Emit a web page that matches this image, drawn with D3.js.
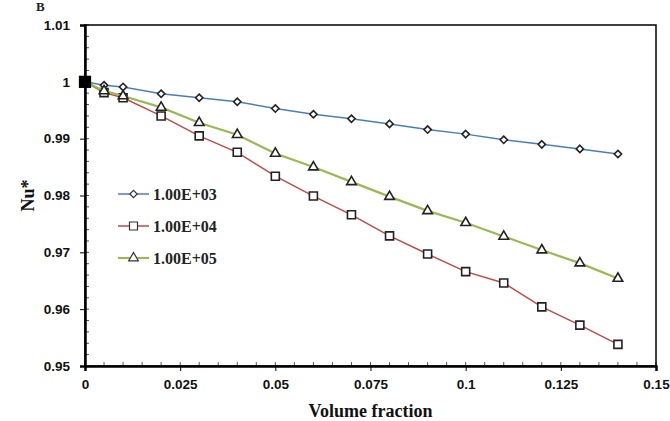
<!DOCTYPE html>
<html>
<head>
<meta charset="utf-8">
<script src="https://cdn.jsdelivr.net/npm/d3@7"></script>
<style>
  body { margin: 0; background: #fff; }
  svg { display: block; }
</style>
</head>
<body>
<div id="chart"></div>
<script>
// volume fraction values
const fractions = [0, 0.005, 0.01, 0.02, 0.03, 0.04, 0.05, 0.06, 0.07, 0.08, 0.09, 0.1, 0.11, 0.12, 0.13, 0.14];

// Nu* per Rayleigh number
const ra1e3 = [1, 0.9994, 0.9991, 0.9979, 0.9972, 0.9965, 0.9953, 0.9943, 0.9935, 0.9926, 0.9916, 0.9908, 0.9898, 0.9890, 0.9882, 0.9873];
const ra1e4 = [1, 0.9981, 0.9972, 0.9940, 0.9905, 0.9876, 0.9834, 0.9799, 0.9766, 0.9729, 0.9697, 0.9666, 0.9646, 0.9604, 0.9572, 0.9538];
const ra1e5 = [1, 0.9984, 0.9975, 0.9955, 0.9928, 0.9907, 0.9874, 0.9850, 0.9824, 0.9798, 0.9773, 0.9752, 0.9728, 0.9704, 0.9681, 0.9654];

const seriesNames = ["1.00E+03", "1.00E+04", "1.00E+05"];
const xTicks = [0, 0.025, 0.05, 0.075, 0.1, 0.125, 0.15];
const yTicks = [0.95, 0.96, 0.97, 0.98, 0.99, 1, 1.01];
const refPoint = [0, 1];

const width = 670, height = 421;
const margin = { top: 25, right: 14, bottom: 55, left: 85 };

const series = [
  { name: seriesNames[0], values: ra1e3, color: "#4a7ebb", marker: "diamond", lw: 1.5 },
  { name: seriesNames[1], values: ra1e4, color: "#be4b48", marker: "square", lw: 1.5 },
  { name: seriesNames[2], values: ra1e5, color: "#98b954", marker: "triangle", lw: 2.2 }
];

const svg = d3.select("#chart").append("svg")
  .attr("width", width).attr("height", height);

const x = d3.scaleLinear().domain([0, 0.15]).range([margin.left, width - margin.right]);
const y = d3.scaleLinear().domain([0.95, 1.01]).range([height - margin.bottom, margin.top]);

const x0 = x.range()[0], x1 = x.range()[1];
const y0 = y.range()[0], y1 = y.range()[1];

// minor ticks (inside)
const minorX = d3.range(0, 0.1501, 0.005);
const minorY = d3.range(0.95, 1.0101, 0.002);

svg.append("g").selectAll("line").data(minorX).join("line")
  .attr("x1", d => x(d)).attr("x2", d => x(d))
  .attr("y1", y0).attr("y2", y0 - 4)
  .attr("stroke", "#555").attr("stroke-width", 1);

svg.append("g").selectAll("line").data(minorY).join("line")
  .attr("x1", x0).attr("x2", x0 + 4)
  .attr("y1", d => y(d)).attr("y2", d => y(d))
  .attr("stroke", "#555").attr("stroke-width", 1);

// frame
svg.append("rect")
  .attr("x", x0).attr("y", y1)
  .attr("width", x1 - x0).attr("height", y0 - y1)
  .attr("fill", "none").attr("stroke", "#000").attr("stroke-width", 1.5);

const xAxis = svg.append("g")
  .attr("transform", `translate(0,${y0})`)
  .call(d3.axisBottom(x).tickValues(xTicks).tickFormat(d => d3.format("")(+d.toFixed(3))).tickSize(5).tickPadding(8));
xAxis.select(".domain").attr("stroke-width", 2.5);
xAxis.selectAll("text")
  .attr("font-family", "'Liberation Sans', Arial, sans-serif")
  .attr("font-weight", "bold").attr("font-size", 13.5).attr("fill", "#111");

const yAxis = svg.append("g")
  .attr("transform", `translate(${x0},0)`)
  .call(d3.axisLeft(y).tickValues(yTicks).tickFormat(d => d3.format("")(+d.toFixed(2))).tickSize(5).tickPadding(10));
yAxis.select(".domain").attr("stroke-width", 2.5);
yAxis.selectAll("text")
  .attr("font-family", "'Liberation Sans', Arial, sans-serif")
  .attr("font-weight", "bold").attr("font-size", 13.5).attr("fill", "#111");

// markers
const symbolOf = {
  diamond: d3.symbol().type(d3.symbolDiamond2).size(34),
  square: d3.symbol().type(d3.symbolSquare).size(64),
  triangle: d3.symbol().type(d3.symbolTriangle).size(40)
};

const line = d3.line().x(d => x(d[0])).y(d => y(d[1]));

series.forEach(s => {
  const pts = fractions.map((f, i) => [f, s.values[i]]);
  svg.append("path")
    .datum(pts)
    .attr("d", line)
    .attr("fill", "none")
    .attr("stroke", s.color)
    .attr("stroke-width", s.lw);
  svg.append("g").selectAll("path").data(pts.slice(1)).join("path")
    .attr("transform", d => `translate(${x(d[0])},${y(d[1])})`)
    .attr("d", symbolOf[s.marker])
    .attr("fill", "#fff")
    .attr("stroke", "#222")
    .attr("stroke-width", 1.6);
});

// reference point at origin
svg.append("path")
  .attr("transform", `translate(${x(refPoint[0])},${y(refPoint[1])})`)
  .attr("d", d3.symbol().type(d3.symbolSquare).size(150))
  .attr("fill", "#000");

// legend
const legend = svg.append("g").attr("transform", "translate(118,194)");
series.forEach((s, i) => {
  const g = legend.append("g").attr("transform", `translate(0,${i * 32})`);
  g.append("line").attr("x1", 0).attr("x2", 31).attr("y1", 0).attr("y2", 0)
    .attr("stroke", s.color).attr("stroke-width", s.lw);
  g.append("path").attr("transform", "translate(15.5,0)")
    .attr("d", symbolOf[s.marker])
    .attr("fill", "#fff").attr("stroke", "#333").attr("stroke-width", 1.2);
  g.append("text").attr("x", 35).attr("y", 5.5)
    .attr("font-family", "'Liberation Serif', 'Times New Roman', serif")
    .attr("font-weight", "bold").attr("font-size", 16).attr("fill", "#222")
    .text(s.name);
});

// axis titles
svg.append("text")
  .attr("x", (x0 + x1) / 2).attr("y", 417)
  .attr("text-anchor", "middle")
  .attr("font-family", "'Liberation Serif', 'Times New Roman', serif")
  .attr("font-weight", "bold").attr("font-size", 18).attr("fill", "#111")
  .text("Volume fraction");

svg.append("text")
  .attr("transform", `translate(34,${(y0 + y1) / 2}) rotate(-90)`)
  .attr("text-anchor", "middle")
  .attr("font-family", "'Liberation Serif', 'Times New Roman', serif")
  .attr("font-weight", "bold").attr("font-size", 18).attr("fill", "#111")
  .text("Nu*");

// panel letter at the top edge
svg.append("text")
  .attr("x", 36).attr("y", 11)
  .attr("font-family", "'Liberation Serif', 'Times New Roman', serif")
  .attr("font-weight", "bold").attr("font-size", 13).attr("fill", "#222")
  .text("B");
</script>
</body>
</html>
